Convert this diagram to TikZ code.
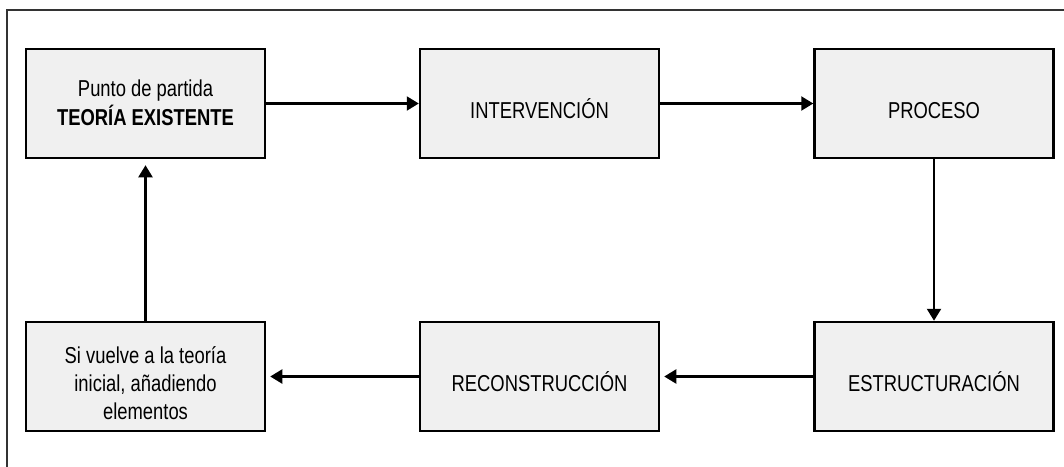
\documentclass[tikz,border=0pt]{standalone}
\usepackage{fontspec}
\setmainfont{Liberation Sans}[FakeStretch=0.8]
\usetikzlibrary{arrows.meta}
\definecolor{boxgray}{HTML}{F0F0F0}
\definecolor{framegray}{HTML}{333333}
\newcommand\boxtext[2]{\raisebox{-#1}[\height][\depth]{\begin{tabular}{@{}c@{}}#2\end{tabular}}}
\begin{document}
\begin{tikzpicture}[x=1pt,y=-1pt,
  blk/.style={draw=black, line width=2.5pt, fill=boxgray,
    minimum width=239pt, minimum height=109pt, inner sep=0pt,
    align=center, font=\fontsize{23}{28}\selectfont},
  conn/.style={line width=2.2pt, -{Triangle[length=12pt,width=14pt]}}]
\useasboundingbox (0,0) rectangle (1064,466);
\fill[white] (0,0) rectangle (1064,466);
\draw[line width=1.3pt, draw=framegray] (7,470) -- (7,10) -- (1070,10);

\node[blk] (teoria) at (145.5,103.5) {\boxtext{1.6pt}{Punto de partida\\\textbf{TEORÍA EXISTENTE}}};
\node[blk] (interv) at (539.5,103.5) {\boxtext{9pt}{INTERVENCIÓN}};
\node[blk] (proceso) at (934,103.5) {\boxtext{9pt}{PROCESO}};
\node[blk] (estruct) at (934,376.5) {\boxtext{9pt}{ESTRUCTURACIÓN}};
\node[blk] (recons) at (539.5,376.5) {\boxtext{9pt}{RECONSTRUCCIÓN}};
\node[blk] (vuelve) at (145.5,376.5) {\boxtext{9pt}{Si vuelve a la teoría\\inicial, añadiendo\\elementos}};

\draw[conn] (teoria.east) -- (interv.west);
\draw[conn] (interv.east) -- (proceso.west);
\draw[conn] (proceso.south) -- (estruct.north);
\draw[conn, shorten >=4pt] (estruct.west) -- (recons.east);
\draw[conn, shorten >=4pt] (recons.west) -- (vuelve.east);
\draw[conn, shorten >=6pt] (vuelve.north) -- (teoria.south);
\end{tikzpicture}
\end{document}
